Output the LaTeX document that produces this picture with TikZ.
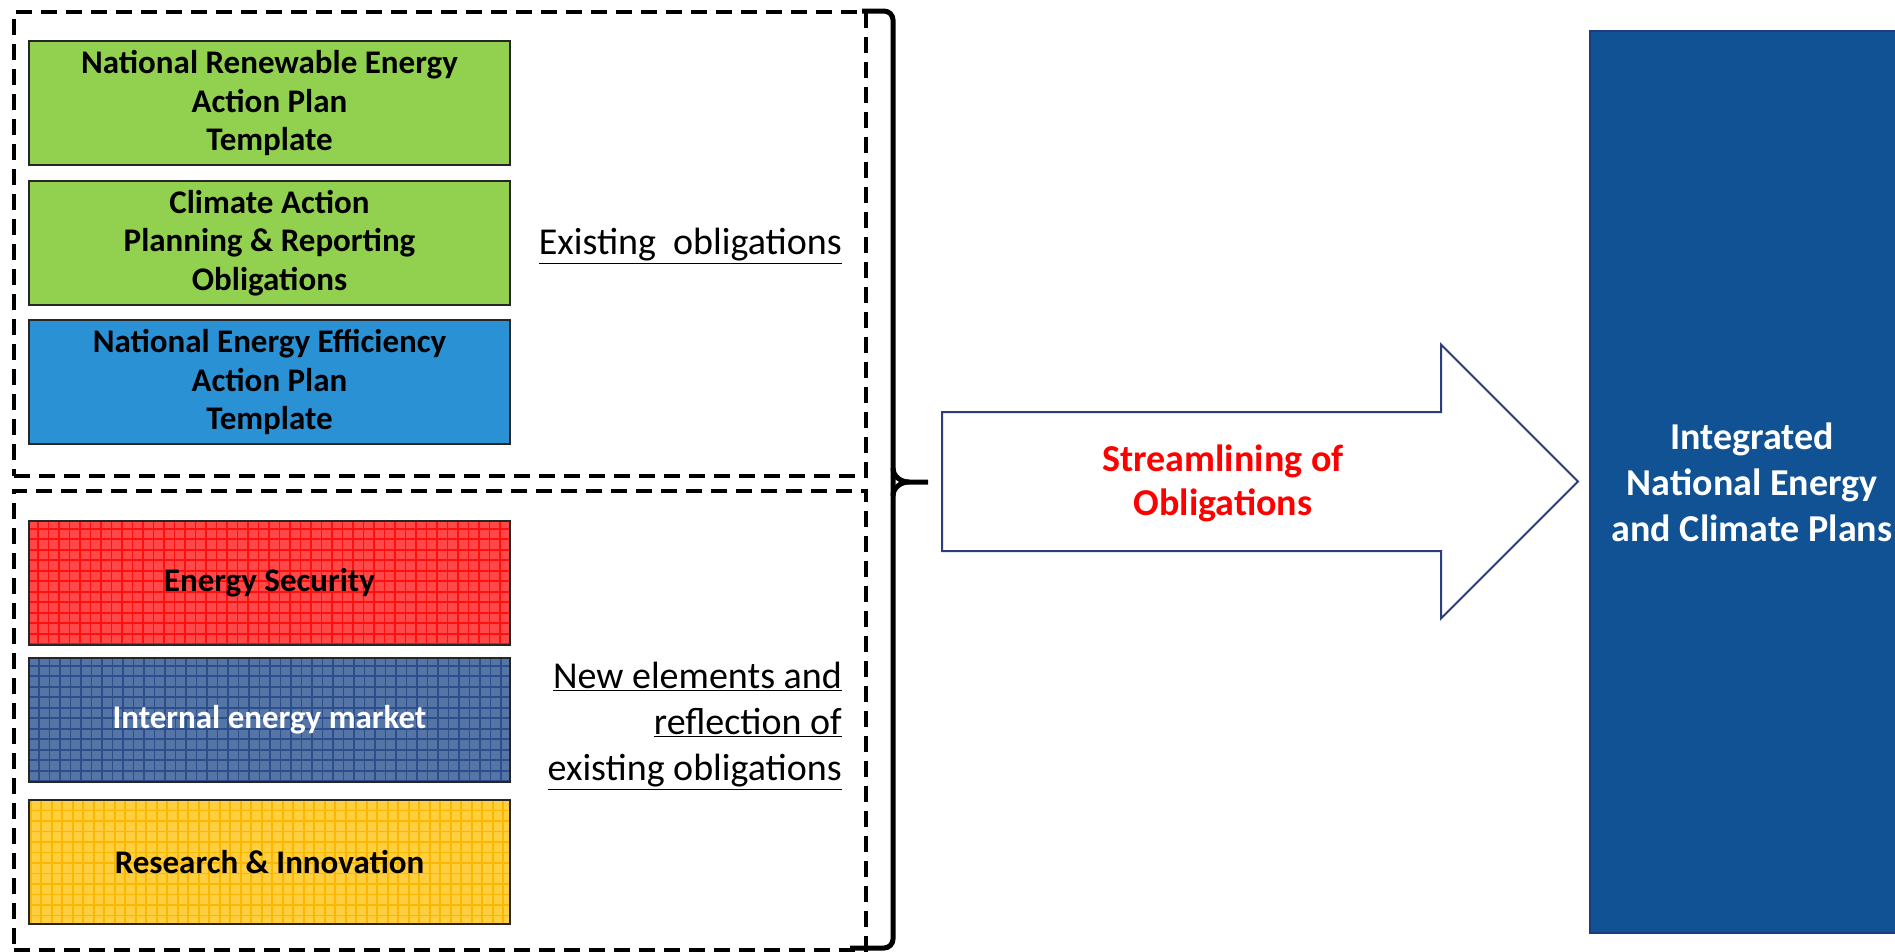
\documentclass[tikz,border=0pt]{standalone}
\usepackage{fontspec}
\setmainfont{Carlito}
\usetikzlibrary{shapes.arrows}

\definecolor{planGreen}{RGB}{146,208,80}
\definecolor{planBlue}{RGB}{43,145,213}
\definecolor{secRed}{RGB}{255,72,72}
\definecolor{secRedLine}{RGB}{255,15,15}
\definecolor{marketBlue}{RGB}{84,117,166}
\definecolor{marketLine}{RGB}{44,78,138}
\definecolor{researchYellow}{RGB}{255,207,64}
\definecolor{researchLine}{RGB}{250,184,0}
\definecolor{necpBlue}{RGB}{16,82,148}
\definecolor{necpEdge}{RGB}{30,58,128}
\definecolor{arrowEdge}{RGB}{45,60,122}

\begin{document}
\begin{tikzpicture}[x = 1pt, y = -1pt,
	gridStyle/.style = {path picture = {\draw[line width = 1.6pt, #1] (path picture bounding box.south west) grid[step = 10.5pt] (path picture bounding box.north east);}}]
	\tikzstyle{planStyle}=[draw = black!85, line width = 2pt, minimum width = 481pt, minimum height = 124pt, anchor = north west, align = center, inner sep = 0pt, font = \fontsize{33}{38.5}\selectfont\bfseries]
	\tikzstyle{dashStyle}=[draw, line width = 4pt, dash pattern = on 16pt off 9pt, anchor = north west, inner sep = 0pt]
	\tikzstyle{labelStyle}=[anchor = east, align = right, inner sep = 0pt, font = \fontsize{38}{46}\selectfont]
	\tikzstyle{bracketStyle}=[line width = 5pt, rounded corners = 9pt]
	\tikzstyle{arrowStyle}=[shape = single arrow, draw = arrowEdge, line width = 2pt, fill = white, single arrow head extend = 67.5pt, minimum height = 636pt, inner xsep = 0pt, inner ysep = 68.5pt, anchor = tail]
	\useasboundingbox (0,0) rectangle (1895,951);
	\clip (0,0) rectangle (1895,951);
	% dashed groups
	\node[dashStyle, minimum width = 852pt, minimum height = 464pt] (existingBox) at (12,10) {};
	\node[dashStyle, minimum width = 852pt, minimum height = 459pt] (newBox) at (12,489) {};
	% existing plans
	\node[planStyle, fill = planGreen] (nreap) at (28,40) {National Renewable Energy\\Action Plan\\Template};
	\node[planStyle, fill = planGreen] (climate) at (28,180) {Climate Action\\Planning \& Reporting\\Obligations};
	\node[planStyle, fill = planBlue] (neeap) at (28,319) {National Energy Efficiency\\Action Plan\\Template};
	% new elements
	\node[planStyle, fill = secRed, gridStyle = secRedLine] (security) at (28,520) {Energy Security};
	\node[planStyle, fill = marketBlue, gridStyle = marketLine, text = white] (market) at (28,657) {Internal energy market};
	\node[planStyle, fill = researchYellow, gridStyle = researchLine] (research) at (28,799) {Research \& Innovation};
	\node[labelStyle] (existing) at (842,246) {\underline{Existing~ obligations}};
	\node[labelStyle] (newElem) at (842,726) {\underline{New elements and}\\\underline{reflection of}\\\underline{existing obligations}};
	% bracket
	\coordinate (bTop) at (862,11);
	\coordinate (bMid) at (893,482);
	\coordinate (bTip) at (928,482);
	\coordinate (bBot) at (850,948);
	\draw[bracketStyle] (bTop) -| (bMid) |- (bBot);
	\draw[line width = 5pt] (893,468) to[out = 270, in = 180] (909,482) -- (bTip);
	\draw[line width = 5pt] (893,496) to[out = 90, in = 180] (909,482);
	% streamlining arrow
	\node[arrowStyle] (stream) at (941,481.5) {};
	\node[text = red, align = center, font = \fontsize{38}{44}\selectfont\bfseries] (streamText) at (1223,483) {Streamlining of\\Obligations};
	% integrated plans
	\node[fill = necpBlue, draw = necpEdge, line width = 2pt, minimum width = 324pt, minimum height = 902pt, text = white, align = center, font = \fontsize{38}{46}\selectfont\bfseries] (necp) at (1752,482) {Integrated\\National Energy\\and Climate Plans};
\end{tikzpicture}
\end{document}
